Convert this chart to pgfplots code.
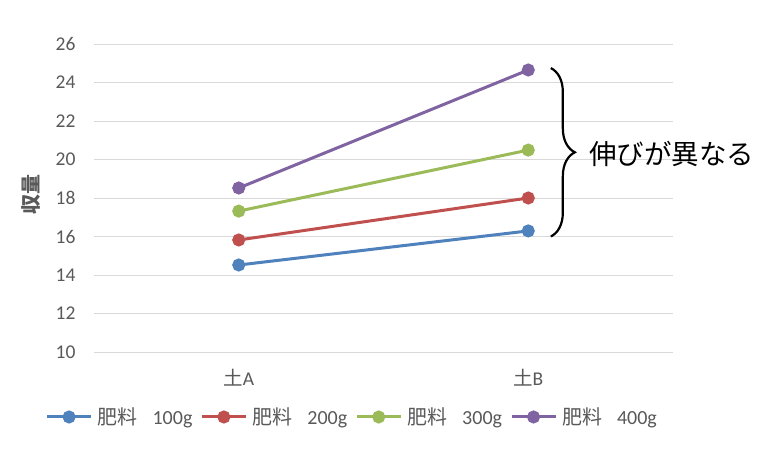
\documentclass[border=0pt]{standalone}
\usepackage{fontspec}
\setmainfont{Carlito}
\newfontfamily\jp{Noto Sans CJK JP}
\usepackage{pgfplots}
\pgfplotsset{compat=1.18}
\usetikzlibrary{decorations.pathreplacing}
\definecolor{s1}{HTML}{4F81BD}
\definecolor{s2}{HTML}{C0504D}
\definecolor{s3}{HTML}{9BBB59}
\definecolor{s4}{HTML}{8064A2}
\definecolor{txt}{HTML}{595959}
\definecolor{gridc}{HTML}{D9D9D9}
\begin{document}
\begin{tikzpicture}
\useasboundingbox (0pt,0pt) rectangle (775pt,451pt);
\begin{axis}[
  at={(94pt,99pt)}, anchor=south west,
  scale only axis, width=579pt, height=308pt,
  xmin=-0.5, xmax=1.5, ymin=10, ymax=26,
  ytick={10,12,...,26},
  xtick={0,1}, xticklabels={{\jp 土}A,{\jp 土}B},
  axis line style={draw=none},
  major tick length=0pt,
  ymajorgrids, grid style={gridc, line width=0.9pt},
  /pgf/number format/assume math mode=true,
  tick label style={font=\fontsize{19.5}{21}\selectfont, text=txt},
  yticklabel style={xshift=-15pt},
  xticklabel style={yshift=-14pt},
  ylabel={\jp\bfseries 収量},
  every axis y label/.style={at={(axis description cs:-0.109,0.51)}, rotate=90, anchor=center, font=\fontsize{20}{22}\selectfont, text=txt},
  clip=false,
  legend columns=4,
  legend style={at={(axis description cs:0.446,-0.211)}, anchor=center, draw=none,
    font=\fontsize{20}{22}\selectfont, text=txt,
    /tikz/every odd column/.append style={column sep=3pt},
    /tikz/every even column/.append style={column sep=6pt}},
  legend image code/.code={\draw[#1,mark repeat=2,mark phase=2] plot coordinates {(0pt,0pt)(22pt,0pt)(44pt,0pt)};},
  every axis plot/.append style={line width=3pt, mark=*, mark size=5pt, mark options={solid}},
]
\addplot[s1, mark options={fill=s1,draw=s1}] coordinates {(0,14.52) (1,16.29)};
\addlegendentry{{\jp 肥料}\hspace{15pt}100g}
\addplot[s2, mark options={fill=s2,draw=s2}] coordinates {(0,15.82) (1,18.0)};
\addlegendentry{{\jp 肥料}\hspace{15pt}200g}
\addplot[s3, mark options={fill=s3,draw=s3}] coordinates {(0,17.32) (1,20.49)};
\addlegendentry{{\jp 肥料}\hspace{15pt}300g}
\addplot[s4, mark options={fill=s4,draw=s4}] coordinates {(0,18.52) (1,24.65)};
\addlegendentry{{\jp 肥料}\hspace{15pt}400g}
\draw[decorate, decoration={brace, amplitude=24pt}, line width=2.2pt]
  (axis cs:1.078,24.75) -- (axis cs:1.078,16.0);
\node[anchor=west, font=\jp\fontsize{27.5}{30}\selectfont, inner sep=0pt] at (axis cs:1.21,20.3) {伸びが異なる};
\end{axis}
\end{tikzpicture}
\end{document}
